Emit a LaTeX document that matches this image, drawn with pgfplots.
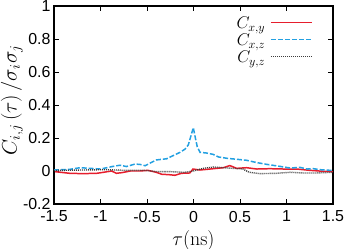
\RequirePackage{fix-cm}
\documentclass[border=0pt]{standalone}
\usepackage[no-math]{fontspec}
\setmainfont{Liberation Sans}
\usepackage{pgfplots}
\pgfplotsset{compat=1.18}
\definecolor{cred}{RGB}{230,30,45}
\definecolor{cblue}{RGB}{35,160,225}
\definecolor{cgray}{RGB}{60,60,60}
\begin{document}
\begin{tikzpicture}
\useasboundingbox (-54bp,-45bp) rectangle (293bp,204bp);
\begin{axis}[
  at={(0,0)}, anchor=south west,
  scale only axis,
  width=279bp, height=198bp,
  xmin=-1.5, xmax=1.5, ymin=-0.2, ymax=1,
  xtick={-1.5,-1,-0.5,0,0.5,1,1.5},
  ytick={-0.2,0,0.2,0.4,0.6,0.8,1},
  xticklabels={-1.5,-1,-0.5,0,0.5,1,1.5},
  yticklabels={-0.2,0,0.2,0.4,0.6,0.8,1},
  /pgf/number format/assume math mode=true,
  tick label style={font=\fontsize{16}{18}\selectfont},
  xticklabel style={yshift=-3.5bp},
  tick align=inside,
  major tick length=5bp,
  axis line style={line width=1.1pt},
  every tick/.style={line width=0.8pt, black},
  xlabel={$\tau(\mathrm{ns})$},
  ylabel={$C_{i,j}\left(\tau\right)/\sigma_i\sigma_j$},
  xlabel style={font=\fontsize{20}{22}\selectfont, at={(axis description cs:0.5,0)}, anchor=center, yshift=-37bp},
  ylabel style={font=\fontsize{21}{23}\selectfont, at={(axis description cs:-0.151,0.525)}, anchor=center},
  legend style={draw=none, fill=none, at={(0.928,0.941)}, anchor=north east, inner sep=0pt,
    font=\fontsize{17}{19}\selectfont, row sep=0pt,
    nodes={inner sep=0pt, text height=11pt, text depth=6pt},
    /tikz/every odd column/.append style={column sep=5bp}},
  legend cell align=right,
  legend plot pos=right,
  legend image code/.code={\draw[#1] (0bp,4bp) -- (41bp,4bp);},
]
\addplot[cred, line width=1.5pt] coordinates {
(-1.49,-0.004) (-1.33,-0.014) (-1.19,-0.016) (-1.04,-0.014) (-0.97,-0.008) (-0.88,0.0) (-0.83,-0.014) (-0.77,-0.01) (-0.68,0.0) (-0.575,0.0) (-0.49,0.004) (-0.40,-0.008) (-0.34,-0.02) (-0.27,-0.022) (-0.20,-0.026) (-0.13,-0.014) (-0.04,-0.012) (-0.005,0.012) (0.07,0.006) (0.18,0.012) (0.25,0.016) (0.32,0.02) (0.39,0.033) (0.465,0.016) (0.57,0.02) (0.68,0.012) (0.82,0.014) (0.97,0.012) (1.11,0.012) (1.25,0.004) (1.40,-0.002) (1.5,-0.004)};
\addlegendentry{$C_{x,y}$}
\addplot[cblue, line width=1.5pt, dash pattern=on 5pt off 2pt] coordinates {
(-1.5,0.006) (-1.33,0.01) (-1.22,0.02) (-1.08,0.015) (-1.0,0.012) (-0.865,0.028) (-0.79,0.035) (-0.72,0.027) (-0.63,0.042) (-0.575,0.04) (-0.52,0.032) (-0.47,0.047) (-0.40,0.067) (-0.29,0.074) (-0.22,0.093) (-0.145,0.113) (-0.09,0.133) (-0.056,0.158) (-0.03,0.208) (-0.002,0.263) (0.02,0.2) (0.04,0.148) (0.07,0.113) (0.14,0.109) (0.21,0.101) (0.27,0.085) (0.36,0.077) (0.465,0.071) (0.57,0.065) (0.68,0.051) (0.79,0.04) (0.93,0.028) (1.04,0.018) (1.145,0.022) (1.22,0.012) (1.29,0.014) (1.36,0.008) (1.5,0.003)};
\addlegendentry{$C_{x,z}$}
\addplot[cgray, line width=1.4pt, dash pattern=on 1pt off 1pt] coordinates {
(-1.5,0.003) (-1.2,0.006) (-0.94,0.008) (-0.74,0.004) (-0.53,0.004) (-0.39,-0.004) (-0.25,-0.004) (-0.1,-0.008) (0.0,0.0) (0.1,0.016) (0.21,0.024) (0.32,0.02) (0.43,0.016) (0.53,0.012) (0.6,-0.008) (0.71,-0.016) (0.89,-0.014) (1.04,-0.008) (1.18,-0.012) (1.32,-0.012) (1.5,-0.008)};
\addlegendentry{$C_{y,z}$}
\end{axis}
\end{tikzpicture}
\end{document}
